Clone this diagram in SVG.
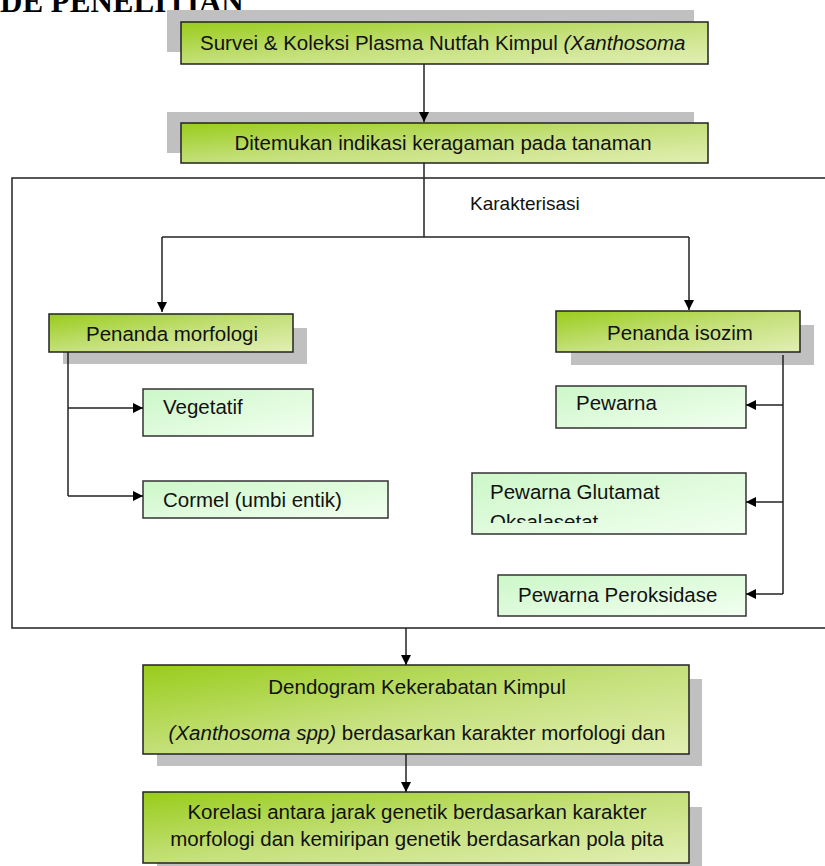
<svg xmlns="http://www.w3.org/2000/svg" width="825" height="866" viewBox="0 0 825 866">
<defs>
<linearGradient id="gDark" x1="0" y1="0" x2="1" y2="1">
<stop offset="0" stop-color="#99cc1a"/>
<stop offset="0.5" stop-color="#c4e07a"/>
<stop offset="1" stop-color="#e2efb4"/>
</linearGradient>
<linearGradient id="gLight" x1="0" y1="0" x2="1" y2="1">
<stop offset="0" stop-color="#ccf7c8"/>
<stop offset="1" stop-color="#f2fff0"/>
</linearGradient>
<marker id="arr" viewBox="0 0 10 10" refX="10" refY="5" markerWidth="10" markerHeight="10" markerUnits="userSpaceOnUse" orient="auto">
<path d="M0,0 L10,5 L0,10 Z" fill="#000"/>
</marker>
<clipPath id="clipG"><rect x="472" y="473" width="274" height="50"/></clipPath>
</defs>
<style>
.sh{fill:#c0c0c0}
.dk{fill:url(#gDark);stroke:#222;stroke-width:1.5}
.lt{fill:url(#gLight);stroke:#333;stroke-width:1.5}
.t{font-family:"Liberation Sans",Arial,sans-serif;font-size:20.5px;fill:#111}
.c{text-anchor:middle}
.ln{fill:none;stroke:#222;stroke-width:1.5}
</style>
<text x="0" y="12" font-family="Liberation Serif, Times New Roman, serif" font-weight="bold" font-size="31" fill="#000">DE PENELITIAN</text>
<g id="frame"><rect x="12" y="178" width="830" height="450" fill="none" stroke="#222" stroke-width="1.5"/></g>
<text class="t" x="470" y="210" style="font-size:19px">Karakterisasi</text>
<g id="n1">
<rect class="sh" x="167" y="10" width="527" height="42"/>
<rect class="dk" x="181" y="22" width="527" height="42"/>
<text class="t" x="200" y="50">Survei &amp; Koleksi Plasma Nutfah Kimpul <tspan font-style="italic">(Xanthosoma</tspan></text>
</g>
<g id="n2">
<rect class="sh" x="167" y="112" width="527" height="41"/>
<rect class="dk" x="181" y="123" width="527" height="40"/>
<text class="t c" x="443" y="150">Ditemukan indikasi keragaman pada tanaman</text>
</g>
<g id="n3">
<rect class="sh" x="63" y="328" width="244" height="36"/>
<rect class="dk" x="49" y="314" width="244" height="38"/>
<text class="t c" x="172" y="341">Penanda morfologi</text>
</g>
<g id="n4">
<rect class="sh" x="571" y="325" width="243" height="40"/>
<rect class="dk" x="556" y="311" width="244" height="41"/>
<text class="t c" x="680" y="340">Penanda isozim</text>
</g>
<g id="n5">
<rect class="lt" x="143" y="389" width="170" height="47"/>
<text class="t" x="163" y="414">Vegetatif</text>
</g>
<g id="n6">
<rect class="lt" x="143" y="481" width="245" height="37"/>
<text class="t" x="163" y="507">Cormel (umbi entik)</text>
</g>
<g id="n7">
<rect class="lt" x="556" y="386" width="190" height="42"/>
<text class="t" x="576" y="410">Pewarna</text>
</g>
<g id="n8">
<rect class="lt" x="472" y="473" width="274" height="61"/>
<g clip-path="url(#clipG)">
<text class="t" x="490" y="499">Pewarna Glutamat</text>
<text class="t" x="490" y="529">Oksalasetat</text>
</g>
</g>
<g id="n9">
<rect class="lt" x="498" y="575" width="248" height="41"/>
<text class="t" x="518" y="602">Pewarna Peroksidase</text>
</g>
<g id="n10">
<rect class="sh" x="157" y="679" width="545" height="87"/>
<rect class="dk" x="143" y="665" width="546" height="89"/>
<text class="t c" x="417" y="694">Dendogram Kekerabatan Kimpul</text>
<text class="t c" x="417" y="740"><tspan font-style="italic">(Xanthosoma spp)</tspan> berdasarkan karakter morfologi dan</text>
</g>
<g id="n11">
<rect class="sh" x="157" y="807" width="545" height="70"/>
<rect class="dk" x="143" y="792" width="546" height="71"/>
<text class="t c" x="417" y="819">Korelasi antara jarak genetik berdasarkan karakter</text>
<text class="t c" x="417" y="846">morfologi dan kemiripan genetik berdasarkan pola pita</text>
</g>
<g id="connectors">
<path class="ln" d="M424,64 V122" marker-end="url(#arr)"/>
<path class="ln" d="M424,163 V237"/>
<path class="ln" d="M162,237 H689"/>
<path class="ln" d="M162,237 V312" marker-end="url(#arr)"/>
<path class="ln" d="M689,237 V310" marker-end="url(#arr)"/>
<path class="ln" d="M68,352 V496"/>
<path class="ln" d="M68,408 H143" marker-end="url(#arr)"/>
<path class="ln" d="M68,496 H143" marker-end="url(#arr)"/>
<path class="ln" d="M783,355 V594"/>
<path class="ln" d="M783,405 H746" marker-end="url(#arr)"/>
<path class="ln" d="M783,502 H746" marker-end="url(#arr)"/>
<path class="ln" d="M783,594 H746" marker-end="url(#arr)"/>
<path class="ln" d="M406,628 V665" marker-end="url(#arr)"/>
<path class="ln" d="M406,754 V792" marker-end="url(#arr)"/>
</g>
</svg>
